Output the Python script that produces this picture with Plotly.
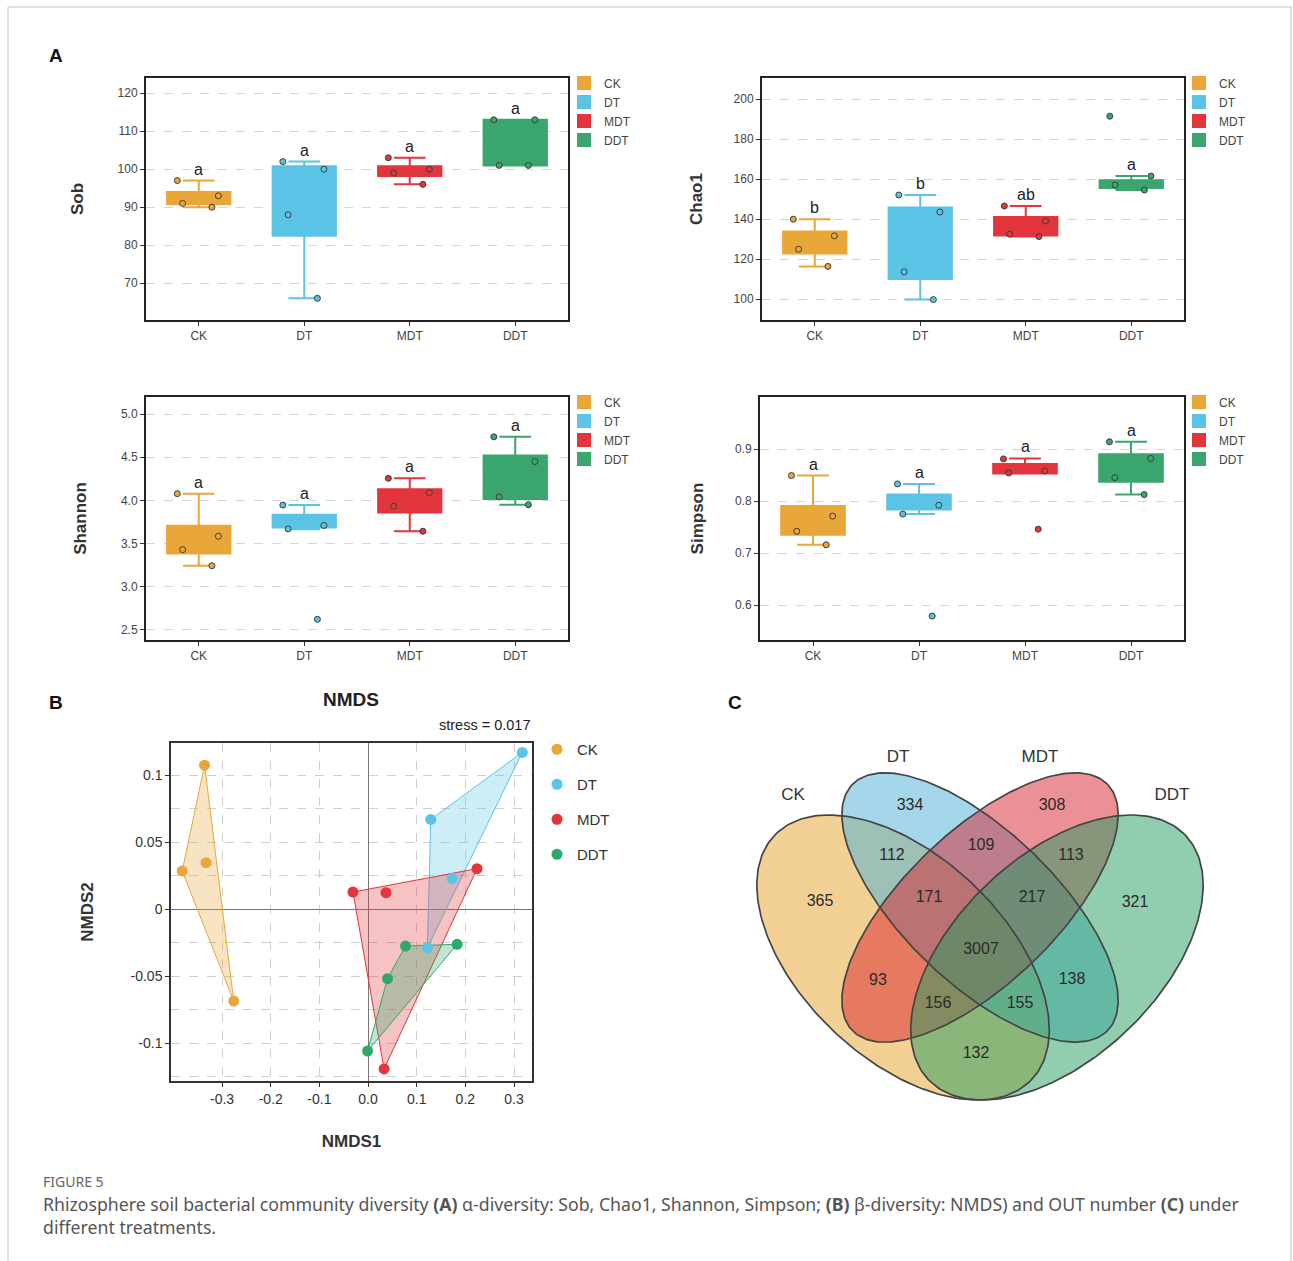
import numpy as np
import plotly.graph_objects as go

W, H = 1293, 1261

# ---------------- data ----------------
groups = ["CK", "DT", "MDT", "DDT"]
box_colors = ["#E9A639", "#5BC3E6", "#E2353C", "#3AA66E"]

# Sob
sob_points = [[93, 91, 90, 97], [102, 100, 88, 66], [100, 103, 99, 96], [113, 113, 101, 101]]
sob_lower = [90, 66, 96, 101]
sob_q1 = [90.75, 82.5, 98.2, 101]
sob_median = [92, 94, 99.5, 107]
sob_q3 = [94, 100.8, 100.8, 113]
sob_upper = [97, 102, 103, 113]
sob_letters = ["a", "a", "a", "a"]
sob_yticks = [70, 80, 90, 100, 110, 120]

# Chao1
chao1_points = [[131.6, 139.9, 124.9, 116.3], [152, 143.5, 113.6, 99.7],
                [146.5, 132.4, 131.2, 139], [157, 161.5, 154.5, 191.4]]
chao1_lower = [116.3, 99.7, 131.2, 154.5]
chao1_q1 = [122.7, 110, 131.8, 155.5]
chao1_median = [128.2, 128.5, 135.7, 158]
chao1_q3 = [133.7, 145.8, 141, 159.4]
chao1_upper = [139.9, 152, 146.5, 161.5]
chao1_letters = ["b", "b", "ab", "a"]
chao1_yticks = [100, 120, 140, 160, 180, 200]

# Shannon
shannon_points = [[4.078, 3.585, 3.43, 3.244], [3.946, 3.71, 3.67, 2.624],
                  [4.256, 4.09, 3.934, 3.643], [4.736, 4.45, 4.04, 3.95]]
shannon_lower = [3.244, 3.665, 3.643, 3.95]
shannon_q1 = [3.384, 3.686, 3.861, 4.0175]
shannon_median = [3.51, 3.77, 4.01, 4.245]
shannon_q3 = [3.708, 3.833, 4.13, 4.52]
shannon_upper = [4.078, 3.946, 4.256, 4.736]
shannon_letters = ["a", "a", "a", "a"]
shannon_yticks = [2.5, 3.0, 3.5, 4.0, 4.5, 5.0]
shannon_yticklabels = ["2.5", "3.0", "3.5", "4.0", "4.5", "5.0"]

# Simpson
simpson_points = [[0.849, 0.771, 0.742, 0.716], [0.833, 0.792, 0.775, 0.579],
                  [0.881, 0.854, 0.858, 0.746], [0.914, 0.882, 0.845, 0.8125]]
simpson_lower = [0.716, 0.775, 0.853, 0.8125]
simpson_q1 = [0.7355, 0.784, 0.853, 0.837]
simpson_median = [0.7565, 0.795, 0.86, 0.8635]
simpson_q3 = [0.7905, 0.8125, 0.871, 0.89]
simpson_upper = [0.849, 0.833, 0.882, 0.914]
simpson_letters = ["a", "a", "a", "a"]
simpson_yticks = [0.6, 0.7, 0.8, 0.9]
simpson_yticklabels = ["0.6", "0.7", "0.8", "0.9"]

# NMDS
nmds_colors = ["#E9A639", "#5BC3E6", "#E2353C", "#2EA86B"]
nmds1 = [[-0.336, -0.382, -0.333, -0.276],
         [0.317, 0.129, 0.173, 0.122],
         [-0.031, 0.037, 0.224, 0.033],
         [-0.001, 0.040, 0.077, 0.183]]
nmds2 = [[0.1075, 0.0286, 0.0348, -0.0684],
         [0.117, 0.067, 0.0229, -0.0286],
         [0.0129, 0.0124, 0.0303, -0.119],
         [-0.1057, -0.0517, -0.0274, -0.0261]]
nmds_xticks = [-0.3, -0.2, -0.1, 0.0, 0.1, 0.2, 0.3]
nmds_xticklabels = ["-0.3", "-0.2", "-0.1", "0.0", "0.1", "0.2", "0.3"]
nmds_yticks = [-0.1, -0.05, 0, 0.05, 0.1]
nmds_yticklabels = ["-0.1", "-0.05", "0", "0.05", "0.1"]
stress_text = "stress = 0.017"

# Venn (OTU numbers)
venn_sets = ["CK", "DT", "MDT", "DDT"]
venn_fill = ["rgba(231,161,41,0.5)", "rgba(75,175,215,0.5)",
             "rgba(215,35,45,0.5)", "rgba(35,155,95,0.5)"]
venn_counts = [365, 334, 308, 321, 112, 109, 113, 171, 217, 3007, 93, 138, 156, 155, 132]

# ---------------- helpers ----------------
def xd(l, r):
    return [l / W, r / W]

def yd(t, b):
    return [1 - b / H, 1 - t / H]

FONT = "Arial, Liberation Sans, sans-serif"
fig = go.Figure()
layout = dict(
    width=W, height=H, autosize=False,
    margin=dict(l=0, r=0, t=0, b=0),
    paper_bgcolor="white", plot_bgcolor="white",
    font=dict(family=FONT, color="#333"),
    boxmode="overlay",
)
annotations = []
shapes = []

panels = [
    dict(title="Sob", pts=sob_points, lo=sob_lower, q1=sob_q1, med=sob_median, q3=sob_q3,
         hi=sob_upper, letters=sob_letters, yr=[60.3, 124], tv=sob_yticks, tt=None,
         xpx=(146, 568), ypx=(78, 320), leg=(564, 68.5), so=30),
    dict(title="Chao1", pts=chao1_points, lo=chao1_lower, q1=chao1_q1, med=chao1_median, q3=chao1_q3,
         hi=chao1_upper, letters=chao1_letters, yr=[89.5, 210.5], tv=chao1_yticks, tt=None,
         xpx=(762, 1184), ypx=(78, 320), leg=(1179, 68.5), so=27),
    dict(title="Shannon", pts=shannon_points, lo=shannon_lower, q1=shannon_q1, med=shannon_median,
         q3=shannon_q3, hi=shannon_upper, letters=shannon_letters, yr=[2.384, 5.197],
         tv=shannon_yticks, tt=shannon_yticklabels,
         xpx=(146, 568), ypx=(397, 640), leg=(564, 387.5), so=30),
    dict(title="Simpson", pts=simpson_points, lo=simpson_lower, q1=simpson_q1, med=simpson_median,
         q3=simpson_q3, hi=simpson_upper, letters=simpson_letters, yr=[0.533, 1.0],
         tv=simpson_yticks, tt=simpson_yticklabels,
         xpx=(760, 1184), ypx=(397, 640), leg=(1179, 387.5), so=27),
]

for k, p in enumerate(panels, start=1):
    sfx = "" if k == 1 else str(k)
    xa, ya, lg = "x" + sfx, "y" + sfx, "legend" + sfx
    for i, g in enumerate(groups):
        c = box_colors[i]
        fig.add_trace(go.Box(
            x=[g], q1=[p["q1"][i]], median=[p["med"][i]], q3=[p["q3"][i]],
            lowerfence=[p["lo"][i]], upperfence=[p["hi"][i]],
            name=g, fillcolor=c, line=dict(color=c, width=2), whiskerwidth=0.5,
            width=0.6, boxpoints=False, xaxis=xa, yaxis=ya, legend=lg,
            showlegend=True, hoverinfo="skip"))
        fig.add_trace(go.Box(
            x=[g] * len(p["pts"][i]), y=p["pts"][i], name=g, boxpoints="all",
            jitter=0.8, pointpos=0, width=0.6, fillcolor="rgba(0,0,0,0)",
            line=dict(color="rgba(0,0,0,0)", width=0), whiskerwidth=0,
            marker=dict(color=c, size=6, line=dict(color="#3d3d3d", width=1)),
            xaxis=xa, yaxis=ya, showlegend=False, hoverinfo="skip"))
        annotations.append(dict(
            x=g, y=p["hi"][i], xref=xa, yref=ya, text=p["letters"][i], showarrow=False,
            yanchor="bottom", yshift=1, font=dict(size=16, color="#222", family=FONT)))
    layout["xaxis" + sfx] = dict(
        domain=xd(*p["xpx"]), anchor=ya, type="category", categoryorder="array",
        categoryarray=groups, range=[-0.5, 3.5], showline=True, mirror=True,
        linecolor="#222", linewidth=2, ticks="outside", ticklen=4, tickcolor="#333",
        tickfont=dict(size=12, color="#444"), showgrid=False, zeroline=False, fixedrange=True)
    yax = dict(
        domain=yd(*p["ypx"]), anchor=xa, range=p["yr"], tickmode="array", tickvals=p["tv"],
        showline=True, mirror=True, linecolor="#222", linewidth=2, ticks="outside",
        ticklen=4, tickcolor="#333", tickfont=dict(size=12, color="#444"),
        showgrid=True, gridcolor="#d6d6d6", griddash="dash", gridwidth=1, zeroline=False,
        title=dict(text="<b>%s</b>" % p["title"], font=dict(size=17, color="#333"),
                   standoff=p["so"]))
    if p["tt"] is not None:
        yax["ticktext"] = p["tt"]
    layout["yaxis" + sfx] = yax
    layout[lg] = dict(
        x=p["leg"][0] / W, y=1 - p["leg"][1] / H, xanchor="left", yanchor="top",
        bgcolor="rgba(0,0,0,0)", font=dict(size=12, color="#444", family=FONT),
        itemwidth=30, tracegroupgap=0)

# ---------------- NMDS ----------------
def convex_hull(xs, ys):
    pts = sorted(zip(xs, ys))

    def cross(o, a, b):
        return (a[0] - o[0]) * (b[1] - o[1]) - (a[1] - o[1]) * (b[0] - o[0])
    lower, upper = [], []
    for q in pts:
        while len(lower) >= 2 and cross(lower[-2], lower[-1], q) <= 0:
            lower.pop()
        lower.append(q)
    for q in reversed(pts):
        while len(upper) >= 2 and cross(upper[-2], upper[-1], q) <= 0:
            upper.pop()
        upper.append(q)
    h = lower[:-1] + upper[:-1]
    h.append(h[0])
    return [a for a, _ in h], [b for _, b in h]

def rgba(hexc, a):
    hexc = hexc.lstrip("#")
    r, g, b = int(hexc[0:2], 16), int(hexc[2:4], 16), int(hexc[4:6], 16)
    return "rgba(%d,%d,%d,%s)" % (r, g, b, a)

for i, g in enumerate(groups):
    hx, hy = convex_hull(nmds1[i], nmds2[i])
    fig.add_trace(go.Scatter(
        x=hx, y=hy, mode="lines", fill="toself", fillcolor=rgba(nmds_colors[i], 0.3),
        line=dict(color=nmds_colors[i], width=1), xaxis="x5", yaxis="y5",
        showlegend=False, hoverinfo="skip"))
for i, g in enumerate(groups):
    fig.add_trace(go.Scatter(
        x=nmds1[i], y=nmds2[i], mode="markers", name=g, legendgroup=g,
        marker=dict(color=nmds_colors[i], size=11), xaxis="x5", yaxis="y5",
        legend="legend5", hoverinfo="skip"))

layout["xaxis5"] = dict(
    domain=xd(171, 532), anchor="y5", range=[-0.405, 0.337], tickmode="array",
    tickvals=nmds_xticks, ticktext=nmds_xticklabels, showline=True, mirror=True,
    linecolor="#333", linewidth=1.5, ticks="outside", ticklen=4, tickcolor="#333",
    tickfont=dict(size=14, color="#333"), showgrid=True, gridcolor="#cfcfcf",
    griddash="dash", zeroline=True, zerolinecolor="#777", zerolinewidth=1,
    title=dict(text="<b>NMDS1</b>", font=dict(size=17, color="#333"), standoff=30))
layout["yaxis5"] = dict(
    domain=yd(743, 1081), anchor="x5", range=[-0.128, 0.124], tickmode="array",
    tickvals=nmds_yticks, ticktext=nmds_yticklabels, showline=True, mirror=True,
    linecolor="#333", linewidth=1.5, ticks="outside", ticklen=4, tickcolor="#333",
    tickfont=dict(size=14, color="#333"), showgrid=True, gridcolor="#cfcfcf",
    griddash="dash", zeroline=True, zerolinecolor="#777", zerolinewidth=1,
    minor=dict(tickmode="linear", tick0=0, dtick=0.025, showgrid=True,
               gridcolor="#cfcfcf", griddash="dash", ticks=""),
    title=dict(text="<b>NMDS2</b>", font=dict(size=17, color="#333"), standoff=33))
layout["legend5"] = dict(
    x=537 / W, y=1 - 733 / H, xanchor="left", yanchor="top", bgcolor="rgba(0,0,0,0)",
    font=dict(size=15, color="#333", family=FONT), itemwidth=30, tracegroupgap=12.5)

annotations.append(dict(x=351.5 / W, y=1 - 699 / H, xref="paper", yref="paper",
                        text="<b>NMDS</b>", showarrow=False, xanchor="center",
                        yanchor="middle", font=dict(size=19, color="#222", family=FONT)))
annotations.append(dict(x=532 / W, y=1 - 725 / H, xref="paper", yref="paper",
                        text=stress_text, showarrow=False, xanchor="right",
                        yanchor="middle", font=dict(size=14.5, color="#222", family=FONT)))

# ---------------- Venn ----------------
# ellipse geometry (unit square, y up) -> pixel-scaled axis
venn_geom = [(0.35, 0.47, 0.35, 0.20, -45), (0.50, 0.57, 0.35, 0.15, -45),
             (0.50, 0.57, 0.35, 0.15, 45), (0.65, 0.47, 0.35, 0.20, 45)]
t = np.linspace(0, 2 * np.pi, 241)

def to_px(u, v):
    return 980 + (u - 0.5) * 513, 773 + (0.839 - v) * 500

ell = []
for (cx, cy, a, b, ang) in venn_geom:
    th = np.radians(ang)
    u = cx + a * np.cos(t) * np.cos(th) - b * np.sin(t) * np.sin(th)
    v = cy + a * np.cos(t) * np.sin(th) + b * np.sin(t) * np.cos(th)
    ell.append(to_px(u, v))
for i, (ex, ey) in enumerate(ell):
    fig.add_trace(go.Scatter(x=ex, y=ey, mode="lines", fill="toself", fillcolor=venn_fill[i],
                             line=dict(width=0, color="rgba(0,0,0,0)"), xaxis="x6", yaxis="y6",
                             showlegend=False, hoverinfo="skip"))
for i, (ex, ey) in enumerate(ell):
    fig.add_trace(go.Scatter(x=ex, y=ey, mode="lines", line=dict(width=1.7, color="#444"),
                             xaxis="x6", yaxis="y6", showlegend=False, hoverinfo="skip"))

venn_label_pos = [(793, 796), (898, 758), (1040, 758), (1172, 796)]
venn_count_pos = [(820, 902), (910, 806), (1052, 806), (1135, 903), (892, 856), (981, 846),
                  (1071, 856), (929, 898), (1032, 898), (981, 950), (878, 981), (1072, 980),
                  (938, 1004), (1020, 1004), (976, 1054)]
fig.add_trace(go.Scatter(
    x=[q[0] for q in venn_label_pos], y=[q[1] for q in venn_label_pos], mode="text",
    text=venn_sets, textfont=dict(size=17, color="#333", family=FONT),
    xaxis="x6", yaxis="y6", showlegend=False, hoverinfo="skip"))
fig.add_trace(go.Scatter(
    x=[q[0] for q in venn_count_pos], y=[q[1] for q in venn_count_pos], mode="text",
    text=[str(c) for c in venn_counts], textfont=dict(size=16, color="#2b2b2b", family=FONT),
    xaxis="x6", yaxis="y6", showlegend=False, hoverinfo="skip"))
layout["xaxis6"] = dict(domain=xd(740, 1220), anchor="y6", range=[740, 1220], visible=False)
layout["yaxis6"] = dict(domain=yd(740, 1120), anchor="x6", range=[1120, 740], visible=False)

# ---------------- panel letters, caption, frame ----------------
for lab, (lx, ly) in zip(["A", "B", "C"], [(56, 56), (56, 702), (735, 702)]):
    annotations.append(dict(x=lx / W, y=1 - ly / H, xref="paper", yref="paper",
                            text="<b>%s</b>" % lab, showarrow=False, xanchor="center",
                            yanchor="middle", font=dict(size=19, color="#111", family=FONT)))

CAP = "Noto Sans, Open Sans, sans-serif"
annotations.append(dict(x=41 / W, y=1 - 1181 / H, xref="paper", yref="paper", text="FIGURE 5",
                        showarrow=False, xanchor="left", yanchor="middle",
                        font=dict(size=14, color="#666", family=CAP)))
annotations.append(dict(
    x=41 / W, y=1 - 1204 / H, xref="paper", yref="paper",
    text="Rhizosphere soil bacterial community diversity <b>(A)</b> \u03b1-diversity: Sob, Chao1, "
         "Shannon, Simpson; <b>(B)</b> \u03b2-diversity: NMDS) and OUT number <b>(C)</b> under",
    showarrow=False, xanchor="left", yanchor="middle", font=dict(size=17.7, color="#555", family=CAP)))
annotations.append(dict(x=41 / W, y=1 - 1227 / H, xref="paper", yref="paper",
                        text="different treatments.", showarrow=False, xanchor="left",
                        yanchor="middle", font=dict(size=17.7, color="#555", family=CAP)))

shapes.append(dict(type="rect", xref="paper", yref="paper", x0=8 / W, x1=1291 / W,
                   y0=1 - 1275 / H, y1=1 - 7 / H, line=dict(color="#c4c4c4", width=1)))

layout["annotations"] = annotations
layout["shapes"] = shapes
fig.update_layout(**layout)
fig.write_html("out.html", config={"displayModeBar": False})
